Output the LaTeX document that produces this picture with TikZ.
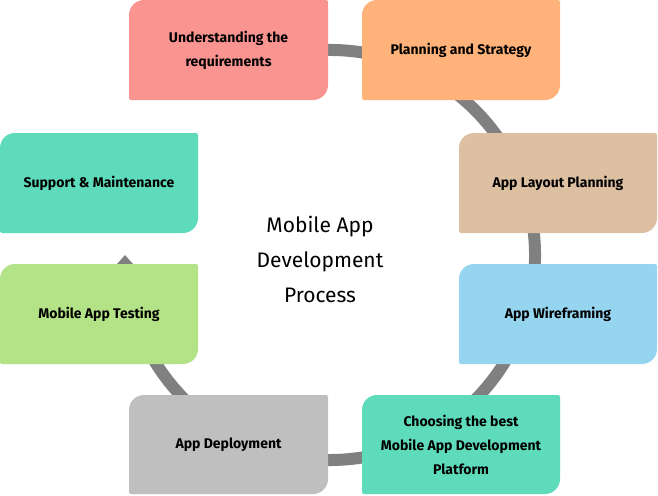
\documentclass[tikz,border=0pt]{standalone}
\usepackage{fontspec}
\setmainfont{Fira Sans}
\usetikzlibrary{arrows.meta}
\definecolor{cU}{HTML}{F99490}
\definecolor{cP}{HTML}{FFB37A}
\definecolor{cL}{HTML}{DDBFA1}
\definecolor{cW}{HTML}{95D5F0}
\definecolor{cG}{HTML}{5EDBBB}
\definecolor{cD}{HTML}{BFBFBF}
\definecolor{cT}{HTML}{B3E386}
\definecolor{ring}{HTML}{808080}
\tikzset{lbl/.style={font=\fontsize{14}{24}\selectfont\bfseries, align=center, text=black}}
\newcommand{\bx}[7]{%
  \fill[#5] (#1,#2+15) arc[start angle=180,end angle=270,radius=15] -- (#3-2,#2) arc[start angle=-90,end angle=0,radius=2] -- (#3,#4-15) arc[start angle=0,end angle=90,radius=15] -- (#1+2,#4) arc[start angle=90,end angle=180,radius=2] -- cycle;
  \node[lbl] (#6) at ({(#1+#3)/2},{(#2+#4)/2}) {#7};}
\begin{document}
\begin{tikzpicture}[x=1pt,y=-1pt]
\useasboundingbox (0,0) rectangle (658,495);
\coordinate (c) at (330,255);
\draw[ring, line width=12pt, -{Triangle[width=24pt,length=14pt]}] (c) ++(-100:205) arc[start angle=-100,end angle=180,radius=205];
\bx{129}{0}{328}{100}{cU}{u}{Understanding the\\requirements}
\bx{362}{0}{560}{100}{cP}{p}{Planning and Strategy}
\bx{459}{133}{657}{233}{cL}{l}{App Layout Planning}
\bx{459}{264}{657}{364}{cW}{w}{App Wireframing}
\bx{362}{395}{560}{494}{cG}{g}{Choosing the best\\Mobile App Development\\Platform}
\bx{129}{395}{328}{494}{cD}{d}{App Deployment}
\bx{0}{264}{198}{364}{cT}{t}{Mobile App Testing}
\bx{0}{133}{198}{233}{cG}{s}{Support \& Maintenance}
\node[font=\fontsize{21}{35}\selectfont, align=center] (title) at (320,259) {Mobile App\\Development\\Process};
\end{tikzpicture}
\end{document}
